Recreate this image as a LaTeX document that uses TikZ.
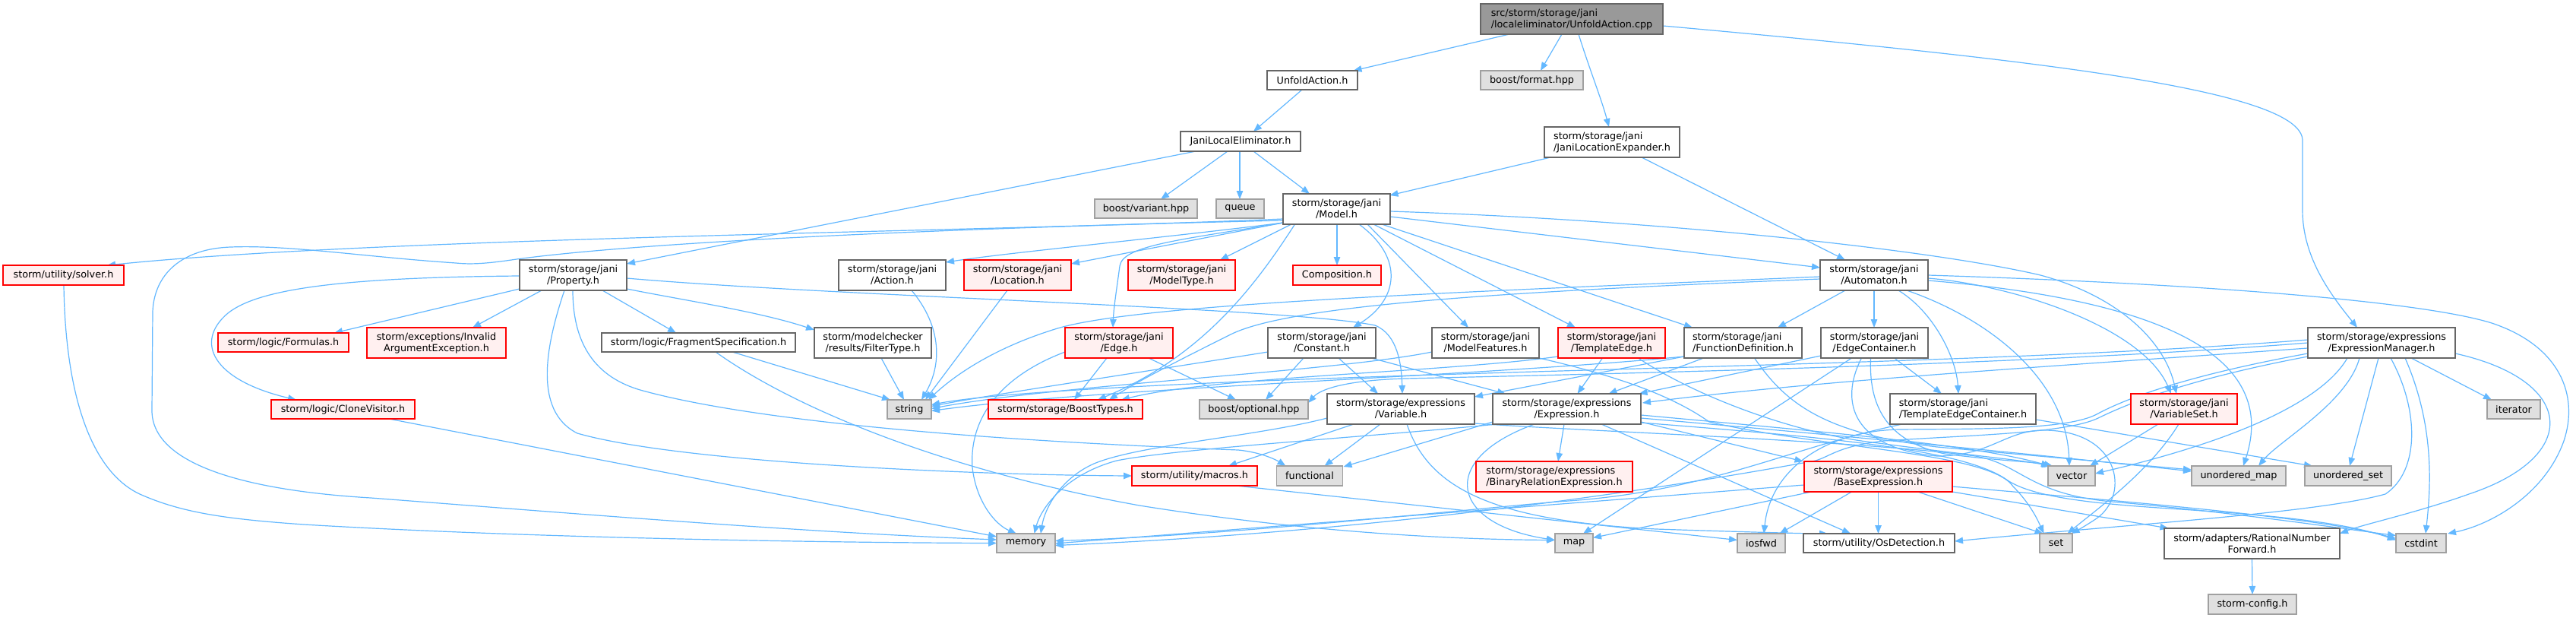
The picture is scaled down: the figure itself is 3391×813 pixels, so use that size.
\documentclass[tikz,border=0pt]{standalone}
\usepackage{fontspec}
\setmainfont{DejaVu Sans}
\usetikzlibrary{arrows.meta,calc}
\definecolor{edgec}{HTML}{63B8FF}
\definecolor{bgrey}{HTML}{666666}
\definecolor{ggrey}{HTML}{A0A0A0}
\definecolor{gfill}{HTML}{E0E0E0}
\definecolor{rfill}{HTML}{FFF0F0}
\definecolor{mfill}{HTML}{999999}
\definecolor{rborder}{HTML}{FF0000}
\pgfdeclarelayer{bg}
\pgfsetlayers{bg,main}
\begin{document}
\begin{tikzpicture}[x=1pt,y=-1pt,
  box/.style={rectangle, draw, line width=1.3pt, inner sep=0pt, text=black, font=\fontsize{12.8}{15}\selectfont},
  sz/.style 2 args={minimum width=#1, minimum height=#2},
  wbox/.style={box, draw=bgrey, fill=white},
  gbox/.style={box, draw=ggrey, fill=gfill},
  rbox/.style={box, draw=rborder, fill=rfill},
  mbox/.style={box, draw=bgrey, fill=mfill},
  e/.style={draw=edgec, line width=1.2pt, -{Triangle[length=11pt,width=8.5pt]}}]
\useasboundingbox (0,0) rectangle (3391,813);
% nodes
\node[mbox, sz={240}{40}, align=left] (cpp) at (2069,25) {src/storm/storage/jani\\/localeliminator/UnfoldAction.cpp};
\node[wbox, sz={119}{25}] (unfoldh) at (1727.5,105.5) {UnfoldAction.h};
\node[gbox, sz={135}{25}] (format) at (2016.5,105.5) {boost/format.hpp};
\node[wbox, sz={178}{40}, align=left] (jlexp) at (2122,187) {storm/storage/jani\\/JaniLocationExpander.h};
\node[wbox, sz={158}{26}] (jle) at (1633,186) {JaniLocalEliminator.h};
\node[gbox, sz={135}{25}] (variant) at (1508.5,274.5) {boost/variant.hpp};
\node[gbox, sz={63}{25}] (queue) at (1632.5,274.5) {queue};
\node[wbox, sz={141}{40}, align=center] (model) at (1759.5,275) {storm/storage/jani\\/Model.h};
\node[rbox, sz={159}{26}] (solver) at (83.5,362) {storm/utility/solver.h};
\node[wbox, sz={141}{40}, align=center] (property) at (754.5,362) {storm/storage/jani\\/Property.h};
\node[wbox, sz={141}{40}, align=center] (action) at (1174.5,362) {storm/storage/jani\\/Action.h};
\node[rbox, sz={141}{40}, align=center] (location) at (1339.5,362) {storm/storage/jani\\/Location.h};
\node[rbox, sz={141}{40}, align=center] (modeltype) at (1555.5,362) {storm/storage/jani\\/ModelType.h};
\node[rbox, sz={116}{26}] (composition) at (1760,362) {Composition.h};
\node[wbox, sz={142}{40}, align=center] (automaton) at (2467,362) {storm/storage/jani\\/Automaton.h};
\node[rbox, sz={172}{25}] (formulas) at (373,450.5) {storm/logic/Formulas.h};
\node[rbox, sz={183}{40}, align=center] (invalidarg) at (574.5,451) {storm/exceptions/Invalid\\ArgumentException.h};
\node[wbox, sz={255}{25}] (fragspec) at (919.5,450.5) {storm/logic/FragmentSpecification.h};
\node[wbox, sz={154}{40}, align=center] (filtertype) at (1149,451) {storm/modelchecker\\/results/FilterType.h};
\node[rbox, sz={142}{40}, align=center] (edge) at (1473,451) {storm/storage/jani\\/Edge.h};
\node[wbox, sz={142}{40}, align=center] (constant) at (1740,451) {storm/storage/jani\\/Constant.h};
\node[wbox, sz={141}{40}, align=center] (modelfeatures) at (1955.5,451) {storm/storage/jani\\/ModelFeatures.h};
\node[rbox, sz={141}{40}, align=center] (templateedge) at (2121.5,451) {storm/storage/jani\\/TemplateEdge.h};
\node[wbox, sz={155}{40}, align=left] (funcdef) at (2294.5,451) {storm/storage/jani\\/FunctionDefinition.h};
\node[wbox, sz={141}{40}, align=center] (edgecontainer) at (2467.5,451) {storm/storage/jani\\/EdgeContainer.h};
\node[wbox, sz={194}{40}, align=center] (exprmanager) at (3135,451) {storm/storage/expressions\\/ExpressionManager.h};
\node[rbox, sz={189}{25}] (clonevisitor) at (451.5,538.5) {storm/logic/CloneVisitor.h};
\node[gbox, sz={58}{25}] (string) at (1197,538.5) {string};
\node[rbox, sz={203}{25}] (boosttypes) at (1402.5,538.5) {storm/storage/BoostTypes.h};
\node[gbox, sz={143}{25}] (optional) at (1650.5,538.5) {boost/optional.hpp};
\node[wbox, sz={194}{40}, align=center] (variable) at (1844,538) {storm/storage/expressions\\/Variable.h};
\node[wbox, sz={195}{40}, align=center] (expression) at (2062.5,538) {storm/storage/expressions\\/Expression.h};
\node[wbox, sz={192}{40}, align=left] (tecontainer) at (2584,538) {storm/storage/jani\\/TemplateEdgeContainer.h};
\node[rbox, sz={140}{40}, align=center] (variableset) at (2875,538) {storm/storage/jani\\/VariableSet.h};
\node[gbox, sz={70}{25}] (iterator) at (3309,538.5) {iterator};
\node[rbox, sz={165}{26}] (macros) at (1572.5,626) {storm/utility/macros.h};
\node[gbox, sz={87}{26}] (functional) at (1724,626) {functional};
\node[rbox, sz={206}{40}, align=left] (binrel) at (2046,627) {storm/storage/expressions\\/BinaryRelationExpression.h};
\node[rbox, sz={195}{40}, align=center] (baseexpr) at (2472.5,627) {storm/storage/expressions\\/BaseExpression.h};
\node[gbox, sz={62}{26}] (vector) at (2727,626) {vector};
\node[gbox, sz={124}{26}] (umap) at (2947,626) {unordered\_map};
\node[gbox, sz={114}{26}] (uset) at (3091,626) {unordered\_set};
\node[gbox, sz={77}{25}] (memory) at (1350.5,714.5) {memory};
\node[gbox, sz={50}{25}] (map) at (2072,714.5) {map};
\node[gbox, sz={63}{25}] (iosfwd) at (2318.5,714.5) {iosfwd};
\node[wbox, sz={199}{25}] (osdetect) at (2473.5,714.5) {storm/utility/OsDetection.h};
\node[gbox, sz={43}{25}] (set) at (2706.5,714.5) {set};
\node[wbox, sz={231}{40}, align=center] (rational) at (2964.5,715) {storm/adapters/RationalNumber\\Forward.h};
\node[gbox, sz={66}{25}] (cstdint) at (3187,714.5) {cstdint};
\node[gbox, sz={116}{26}] (stormconfig) at (2965,795) {storm-config.h};
\begin{pgfonlayer}{bg}
\fill[white] (0,0) rectangle (3391,813);
% top part
\draw[e] ($(cpp)+(-82,20)$) -- ($(unfoldh)+(54,-12.5)$);
\draw[e] ($(cpp)+(-13,20)$) -- ($(format)+(11.5,-12.5)$);
\draw[e] ($(cpp)+(9,20)$) .. controls (2092,90) and (2108,130) .. ($(jlexp)+(-4,-20)$);
\draw[e] ($(cpp)+(120,9)$) .. controls (2700,80) and (3031,120) .. (3031,185) -- (3031,277) .. controls (3031,340) and (3070,390) .. ($(exprmanager)+(-32,-20)$);
\draw[e] ($(unfoldh)+(-13.5,12.5)$) -- ($(jle)+(17,-13)$);
\draw[e] ($(jle)+(-59,13)$) -- ($(property)+(70.5,-15)$);
\draw[e] ($(jle)+(-17,13)$) -- ($(variant)+(19.5,-12.5)$);
\draw[e] ($(jle)+(-1,13)$) -- ($(queue)+(-0.5,-12.5)$);
\draw[e] ($(jle)+(17,13)$) -- ($(model)+(-35.5,-20)$);
\draw[e] ($(jlexp)+(-81,20)$) -- ($(model)+(70,-18)$);
\draw[e] ($(jlexp)+(39,20)$) -- ($(automaton)+(-38,-20)$);
% Model.h
\draw[e] ($(model)+(-70.5,13)$) .. controls (1300,305) and (500,312) .. ($(solver)+(57.5,-13)$);
\draw[e] ($(model)+(-70.5,15)$) .. controls (1250,300) and (850,318) .. (680,341) .. controls (640,347) and (620,348) .. (600,346) .. controls (480,338) and (380,322) .. (304,325) .. controls (240,327) and (203,360) .. (201,410) -- (200,540) .. controls (200,610) and (320,645) .. (488,655) .. controls (750,675) and (1050,700) .. ($(memory)+(-38.5,-4.5)$);
\draw[e] ($(model)+(-70.5,18)$) .. controls (1540,312) and (1330,332) .. ($(action)+(70.5,-17)$);
\draw[e] ($(model)+(-70.5,18)$) -- ($(location)+(70.5,-15)$);
\draw[e] ($(model)+(-59.5,20)$) -- ($(modeltype)+(50.5,-20)$);
\draw[e] ($(model)+(0.5,20)$) -- ($(composition)+(0,-13)$);
\draw[e] ($(model)+(70.5,10)$) -- ($(automaton)+(-71,-10)$);
\draw[e] ($(model)+(70.5,3)$) .. controls (2200,290) and (2550,330) .. (2686,362) .. controls (2790,390) and (2850,450) .. ($(variableset)+(-10,-20)$);
\draw[e] ($(model)+(-70.5,18)$) .. controls (1560,315) and (1478,322) .. (1474,350) .. controls (1470,380) and (1466,405) .. ($(edge)+(-8,-20)$);
\draw[e] ($(model)+(29.5,20)$) .. controls (1850,340) and (1840,395) .. ($(constant)+(41,-20)$);
\draw[e] ($(model)+(40.5,20)$) -- ($(modelfeatures)+(-22.5,-20)$);
\draw[e] ($(model)+(48.5,20)$) -- ($(templateedge)+(-47.5,-20)$);
\draw[e] ($(model)+(59.5,20)$) -- ($(funcdef)+(-66.5,-20)$);
\draw[e] ($(model)+(-55,20)$) .. controls (1650,380) and (1580,470) .. ($(boosttypes)+(42.5,-12.5)$);
% Automaton.h
\draw[e] ($(automaton)+(-71,2)$) .. controls (1900,385) and (1500,400) .. (1392,432) .. controls (1300,460) and (1250,500) .. ($(string)+(25,-12.5)$);
\draw[e] ($(automaton)+(-71,5)$) .. controls (2000,383) and (1700,400) .. (1620,440) .. controls (1560,470) and (1500,500) .. ($(boosttypes)+(57.5,-12.5)$);
\draw[e] ($(automaton)+(0,20)$) -- ($(edgecontainer)+(-0.5,-20)$);
\draw[e] ($(automaton)+(-38,20)$) -- ($(funcdef)+(45.5,-20)$);
\draw[e] ($(automaton)+(32,20)$) .. controls (2545,410) and (2575,470) .. ($(tecontainer)+(-6,-20)$);
\draw[e] ($(automaton)+(71,4)$) .. controls (2650,375) and (2820,430) .. ($(variableset)+(-17,-20)$);
\draw[e] ($(automaton)+(43,20)$) .. controls (2620,420) and (2720,500) .. ($(vector)+(-3,-13)$);
\draw[e] ($(automaton)+(71,7)$) .. controls (2850,395) and (3000,470) .. ($(umap)+(6,-13)$);
\draw[e] ($(automaton)+(71,0)$) .. controls (2950,375) and (3200,400) .. (3280,425) .. controls (3370,455) and (3395,520) .. (3375,580) .. controls (3350,650) and (3280,690) .. ($(cstdint)+(35,-12.5)$);
% Property.h
\draw[e] ($(property)+(-70.5,18)$) -- ($(formulas)+(67,-12.5)$);
\draw[e] ($(property)+(-41.5,20)$) -- ($(invalidarg)+(47.5,-20)$);
\draw[e] ($(property)+(-70.5,1)$) .. controls (450,365) and (340,380) .. (300,412) .. controls (255,450) and (280,500) .. ($(clonevisitor)+(-61.5,-12.5)$);
\draw[e] ($(property)+(-11.5,20)$) .. controls (720,450) and (700,540) .. (760,570) .. controls (900,610) and (1300,625) .. ($(macros)+(-82.5,0)$);
\draw[e] ($(property)+(-0.5,20)$) .. controls (754,460) and (790,500) .. (850,515) .. controls (1000,555) and (1300,580) .. (1630,592) .. controls (1660,595) and (1680,605) .. ($(functional)+(-31.5,-13)$);
\draw[e] ($(property)+(38.5,20)$) -- ($(fragspec)+(-29.5,-12.5)$);
\draw[e] ($(property)+(70.5,18)$) .. controls (900,395) and (1000,410) .. ($(filtertype)+(-77,-17)$);
\draw[e] ($(property)+(70.5,4)$) .. controls (1100,390) and (1700,405) .. (1810,428) .. controls (1840,440) and (1845,480) .. ($(variable)+(2,-20)$);
% logic / misc
\draw[e] ($(fragspec)+(44.5,12.5)$) -- ($(string)+(-25,-12.5)$);
\draw[e] ($(fragspec)+(22.5,12.5)$) .. controls (1050,540) and (1250,620) .. (1500,665) .. controls (1750,705) and (1950,710) .. ($(map)+(-25,-4)$);
\draw[e] ($(filtertype)+(11,20)$) -- ($(string)+(-7,-12.5)$);
\draw[e] ($(clonevisitor)+(60.5,12.5)$) -- ($(memory)+(-38.5,-8.5)$);
\draw[e] ($(solver)+(0.5,13)$) .. controls (86,520) and (120,620) .. (184,650) .. controls (240,675) and (300,683) .. (400,690) .. controls (700,708) and (1100,714) .. ($(memory)+(-38.5,0)$);
\draw[e] ($(action)+(25.5,20)$) .. controls (1240,430) and (1240,480) .. ($(string)+(16,-12.5)$);
\draw[e] ($(location)+(-13.5,20)$) -- ($(string)+(21,-12.5)$);
% Edge.h
\draw[e] ($(edge)+(-71,12)$) .. controls (1330,490) and (1275,540) .. (1280,615) .. controls (1285,660) and (1310,690) .. ($(memory)+(-12.5,-12.5)$);
\draw[e] ($(edge)+(-16,20)$) -- ($(boosttypes)+(11.5,-12.5)$);
\draw[e] ($(edge)+(39,20)$) -- ($(optional)+(-23.5,-12.5)$);
% Constant.h
\draw[e] ($(constant)+(-71,12)$) .. controls (1500,490) and (1300,520) .. ($(string)+(29,-4)$);
\draw[e] ($(constant)+(-24,20)$) -- ($(optional)+(15.5,-12.5)$);
\draw[e] ($(constant)+(22,20)$) -- ($(variable)+(-30,-20)$);
\draw[e] ($(constant)+(65,20)$) -- ($(expression)+(-80.5,-20)$);
% ModelFeatures.h
\draw[e] ($(modelfeatures)+(-70.5,12)$) .. controls (1750,490) and (1400,505) .. ($(string)+(29,-1)$);
\draw[e] ($(modelfeatures)+(70.5,20)$) .. controls (2130,495) and (2200,520) .. (2250,555) .. controls (2400,590) and (2620,595) .. (2650,640) .. controls (2675,665) and (2685,690) .. ($(set)+(-16,-12.5)$);
% TemplateEdge.h
\draw[e] ($(templateedge)+(-70.5,18)$) .. controls (1900,490) and (1600,495) .. ($(boosttypes)+(73.5,-12.5)$);
\draw[e] ($(templateedge)+(-12,20)$) -- ($(expression)+(14,-20)$);
\draw[e] ($(templateedge)+(35,20)$) .. controls (2230,520) and (2350,565) .. (2450,580) .. controls (2600,600) and (2660,605) .. ($(vector)+(-28,-13)$);
% FunctionDefinition.h
\draw[e] ($(funcdef)+(-77.5,18)$) .. controls (1950,495) and (1450,510) .. ($(string)+(29,2)$);
\draw[e] ($(funcdef)+(-77.5,18)$) -- ($(variable)+(97,-16)$);
\draw[e] ($(funcdef)+(-52,20)$) -- ($(expression)+(55,-20)$);
\draw[e] ($(funcdef)+(15,20)$) .. controls (2350,530) and (2400,570) .. (2550,588) -- ($(umap)+(-62,-8)$);
% EdgeContainer.h
\draw[e] ($(edgecontainer)+(-70.5,17)$) -- ($(expression)+(95,-20)$);
\draw[e] ($(edgecontainer)+(-30,20)$) -- ($(map)+(12,-12.5)$);
\draw[e] ($(edgecontainer)+(-17,20)$) .. controls (2420,530) and (2440,590) .. (2550,600) .. controls (2620,600) and (2640,566) .. (2690,566) .. controls (2790,566) and (2805,650) .. (2760,682) .. controls (2745,692) and (2734,698) .. ($(set)+(20,-12.5)$);
\draw[e] ($(edgecontainer)+(-5,20)$) .. controls (2460,530) and (2480,580) .. (2560,597) .. controls (2620,605) and (2680,608) .. ($(vector)+(-25,-13)$);
\draw[e] ($(edgecontainer)+(26,20)$) -- ($(tecontainer)+(-28,-20)$);
% TemplateEdgeContainer.h
\draw[e] ($(tecontainer)+(96,14)$) -- ($(uset)+(-47,-13)$);
\draw[e] ($(tecontainer)+(-80,20)$) .. controls (2350,590) and (2250,648) .. (2050,660) .. controls (1850,678) and (1600,705) .. ($(memory)+(38.5,-3)$);
% VariableSet.h
\draw[e] ($(variableset)+(-34,20)$) -- ($(vector)+(24,-13)$);
\draw[e] ($(variableset)+(-7,20)$) .. controls (2830,620) and (2760,670) .. ($(set)+(15,-12.5)$);
% ExpressionManager.h
\draw[e] ($(exprmanager)+(-97,-4)$) .. controls (2700,474) and (2200,482) .. (1800,496) .. controls (1500,506) and (1300,518) .. ($(string)+(29,-6)$);
\draw[e] ($(exprmanager)+(-97,0)$) .. controls (2700,478) and (2200,490) .. (1850,498) .. controls (1780,500) and (1740,510) .. ($(optional)+(71.5,-8.5)$);
\draw[e] ($(exprmanager)+(-97,7)$) .. controls (2700,482) and (2400,500) .. ($(expression)+(99.5,-8)$);
\draw[e] ($(exprmanager)+(-97,14)$) .. controls (2900,490) and (2810,518) .. (2760,545) .. controls (2720,566) and (2600,564) .. (2500,565) .. controls (2400,567) and (2330,620) .. ($(iosfwd)+(3.5,-12.5)$);
\draw[e] ($(exprmanager)+(-97,18)$) .. controls (2900,495) and (2815,524) .. (2762,550) .. controls (2720,570) and (2600,572) .. (2480,580) .. controls (2420,587) and (2410,600) .. (2390,606) .. controls (2150,650) and (1800,700) .. ($(memory)+(38.5,3)$);
\draw[e] ($(exprmanager)+(-45,20)$) .. controls (3050,540) and (2900,590) .. ($(vector)+(31,-3)$);
\draw[e] ($(exprmanager)+(-29,20)$) .. controls (3090,530) and (3000,580) .. ($(umap)+(26,-13)$);
\draw[e] ($(exprmanager)+(-4,20)$) -- ($(uset)+(2,-13)$);
\draw[e] ($(exprmanager)+(12,20)$) .. controls (3185,540) and (3185,620) .. (3140,650) .. controls (3050,675) and (2800,690) .. ($(osdetect)+(99.5,-2.5)$);
\draw[e] ($(exprmanager)+(31,20)$) .. controls (3205,560) and (3200,640) .. ($(cstdint)+(6,-12.5)$);
\draw[e] ($(exprmanager)+(39,20)$) -- ($(iterator)+(-29,-12.5)$);
\draw[e] ($(exprmanager)+(97,14)$) .. controls (3390,500) and (3400,600) .. (3250,650) .. controls (3180,675) and (3110,690) .. ($(rational)+(115.5,-13)$);
% BaseExpression.h
\draw[e] ($(baseexpr)+(-97.5,11)$) -- ($(memory)+(38.5,0.5)$);
\draw[e] ($(baseexpr)+(-88,20)$) -- ($(map)+(25,-7)$);
\draw[e] ($(baseexpr)+(-35,20)$) -- ($(iosfwd)+(24,-12.5)$);
\draw[e] ($(baseexpr)+(0,20)$) -- ($(osdetect)+(-1,-12.5)$);
\draw[e] ($(baseexpr)+(52,20)$) -- ($(set)+(-17,-12.5)$);
\draw[e] ($(baseexpr)+(97.5,13)$) .. controls (2800,660) and (3050,680) .. ($(cstdint)+(-33,-6)$);
\draw[e] ($(baseexpr)+(97.5,20)$) -- ($(rational)+(-110,-20)$);
% Expression.h
\draw[e] ($(expression)+(-97.5,17)$) -- ($(functional)+(44.5,-12)$);
\draw[e] ($(expression)+(-92,20)$) .. controls (1800,575) and (1550,590) .. (1470,606) .. controls (1400,625) and (1370,670) .. ($(memory)+(11,-12.5)$);
\draw[e] ($(expression)+(-42.5,20)$) .. controls (1890,605) and (1910,690) .. ($(map)+(-25,-4)$);
\draw[e] ($(expression)+(-3.5,20)$) -- ($(binrel)+(5,-20)$);
\draw[e] ($(expression)+(45.5,20)$) -- ($(osdetect)+(-37.5,-12.5)$);
\draw[e] ($(expression)+(97.5,17)$) -- ($(baseexpr)+(-99,-20)$);
\draw[e] ($(expression)+(97.5,8)$) .. controls (2400,568) and (2600,585) .. ($(vector)+(-29,-13)$);
\draw[e] ($(expression)+(97.5,12)$) .. controls (2450,575) and (2700,600) .. ($(umap)+(-62,-6)$);
\draw[e] ($(expression)+(97.5,18)$) .. controls (2400,575) and (2580,590) .. (2640,630) .. controls (2680,660) and (2800,665) .. (2900,672) .. controls (3050,682) and (3110,695) .. ($(cstdint)+(-33,-4)$);
% Variable.h
\draw[e] ($(variable)+(-62,20)$) -- ($(macros)+(44.5,-13)$);
\draw[e] ($(variable)+(-27,20)$) -- ($(functional)+(19.5,-13)$);
\draw[e] ($(variable)+(8,20)$) .. controls (1880,640) and (1960,685) .. (2180,696) .. controls (2300,700) and (2380,702) .. ($(osdetect)+(-67.5,-12.5)$);
\draw[e] ($(variable)+(-97,12)$) .. controls (1650,575) and (1500,585) .. (1440,610) .. controls (1395,630) and (1375,670) .. ($(memory)+(19.5,-12.5)$);
\draw[e] ($(variable)+(97,19)$) .. controls (2100,568) and (2450,580) .. (2600,600) .. controls (2660,610) and (2670,650) .. (2780,660) .. controls (2950,675) and (3080,695) .. ($(cstdint)+(-33,-10)$);
% others
\draw[e] ($(rational)+(0,20)$) -- ($(stormconfig)+(0,-13)$);
\draw[e] ($(macros)+(55,13)$) -- ($(iosfwd)+(-31.5,-4)$);
\end{pgfonlayer}
\end{tikzpicture}
\end{document}
